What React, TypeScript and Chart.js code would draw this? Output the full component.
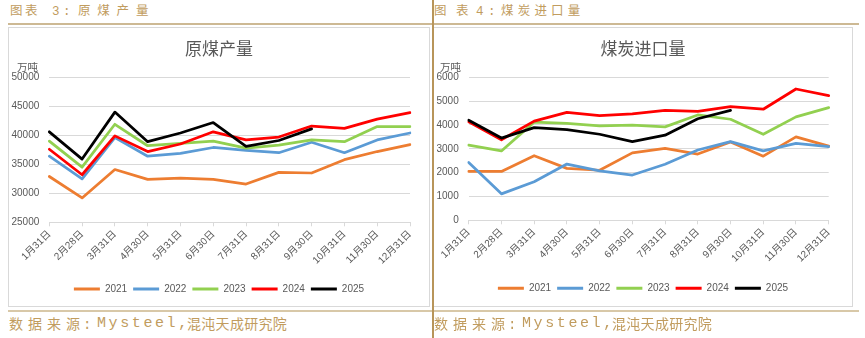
import React, { useEffect, useRef } from 'react';
import { Chart, registerables } from 'chart.js';

Chart.register(...registerables);

const categories = ['1月31日', '2月28日', '3月31日', '4月30日', '5月31日', '6月30日', '7月31日', '8月31日', '9月30日', '10月31日', '11月30日', '12月31日'];
const seriesNames = ['2021', '2022', '2023', '2024', '2025'];
const seriesColors = ['#ED7D31', '#5B9BD5', '#92D050', '#FF0000', '#000000'];

// 原煤产量 (万吨)
const prod2021 = [32900, 29200, 34100, 32400, 32600, 32400, 31600, 33600, 33500, 35800, 37200, 38400];
const prod2022 = [36400, 32500, 39600, 36400, 36900, 37900, 37400, 37000, 38800, 37000, 39200, 40400];
const prod2023 = [39000, 34500, 41900, 38200, 38600, 39000, 37800, 38300, 39200, 38900, 41500, 41500];
const prod2024 = [37600, 33200, 39900, 37200, 38500, 40600, 39200, 39700, 41600, 41200, 42800, 43900];
const prod2025 = [40600, 35900, 44000, 38900, 40400, 42200, 38100, 39100, 41100, null, null, null];

// 煤炭进口量 (万吨)
const imp2021 = [2050, 2050, 2710, 2180, 2100, 2830, 3020, 2780, 3290, 2690, 3500, 3110];
const imp2022 = [2430, 1110, 1620, 2360, 2070, 1900, 2350, 2950, 3300, 2910, 3230, 3090];
const imp2023 = [3150, 2910, 4120, 4070, 3960, 3990, 3920, 4420, 4240, 3610, 4340, 4730];
const imp2024 = [4130, 3380, 4160, 4530, 4390, 4470, 4610, 4570, 4770, 4660, 5510, 5230];
const imp2025 = [4200, 3450, 3890, 3800, 3610, 3300, 3570, 4260, 4610, null, null, null];

const FONT = "'Liberation Sans', 'Noto Sans CJK SC', sans-serif";
const MONO = "'Liberation Mono', 'Noto Sans CJK SC', monospace";
const TEXT = '#595959';
const GRID = '#d9d9d9';
const GOLD = '#c19c5e';

type LineChartProps = {
  values: (number | null)[][];
  title: string;
  min: number;
  max: number;
  step: number;
  width: number;
  height: number;
  rightPad: number;
  yWidth: number;
  xHeight: number;
  bottomPad: number;
};

// centre title and legend on the whole canvas, not only on the padded area
const centerBoxes = {
  id: 'centerBoxes',
  afterLayout(chart: any) {
    for (const box of [chart.titleBlock, chart.legend]) {
      if (box) {
        box.left = 0;
        box.right = chart.width;
        box.width = chart.width;
      }
    }
  },
};

function LineChart(props: LineChartProps) {
  const ref = useRef<HTMLCanvasElement>(null);
  useEffect(() => {
    const { values, title, min, max, step, rightPad, yWidth, xHeight, bottomPad } = props;
    const chart = new Chart(ref.current as HTMLCanvasElement, {
      type: 'line',
      data: {
        labels: categories,
        datasets: values.map((v, i) => ({
          label: seriesNames[i],
          data: v,
          borderColor: seriesColors[i],
          backgroundColor: seriesColors[i],
          borderWidth: 2.75,
          pointRadius: 0,
          pointHoverRadius: 0,
          tension: 0,
          fill: false,
          borderJoinStyle: 'round',
          borderCapStyle: 'round',
          order: values.length - i,
        })),
      },
      options: {
        responsive: false,
        animation: false,
        devicePixelRatio: 1,
        layout: { padding: { left: 0, right: rightPad, top: 0, bottom: bottomPad } },
        plugins: {
          title: {
            display: true,
            text: title,
            color: TEXT,
            font: { size: 17, family: FONT, weight: 'normal' },
            padding: { top: 11.8, bottom: 17.1 },
          },
          legend: {
            position: 'bottom',
            labels: {
              boxWidth: 26,
              boxHeight: 3,
              padding: 6,
              color: TEXT,
              font: { size: 10, family: FONT },
              sort: (a: any, b: any) => a.datasetIndex - b.datasetIndex,
              generateLabels: (c: any) =>
                (Chart.defaults.plugins.legend.labels.generateLabels as any)(c).map((l: any) => ({
                  ...l,
                  lineWidth: 0,
                  fillStyle: l.strokeStyle,
                })),
            },
          },
          tooltip: { enabled: false },
        },
        scales: {
          x: {
            grid: { display: true, drawOnChartArea: false, drawTicks: true, tickLength: 4, color: GRID },
            border: { display: true, color: GRID },
            ticks: {
              minRotation: 45,
              maxRotation: 45,
              autoSkip: false,
              color: TEXT,
              font: { size: 10, family: FONT },
              padding: 2,
            },
            afterFit: (s: any) => {
              s.height = xHeight;
            },
          },
          y: {
            min,
            max,
            ticks: {
              stepSize: step,
              color: TEXT,
              font: { size: 10, family: FONT },
              padding: 10,
              callback: (v: any) => String(v),
            },
            grid: { color: GRID, drawTicks: false },
            border: { display: false },
            afterFit: (s: any) => {
              s.width = yWidth;
            },
          },
        },
      } as any,
      plugins: [centerBoxes],
    });
    return () => chart.destroy();
  }, []);
  return (
    <canvas
      ref={ref}
      width={props.width}
      height={props.height}
      style={{ display: 'block', width: props.width, height: props.height }}
    />
  );
}

const abs = (s: React.CSSProperties): React.CSSProperties => ({ position: 'absolute', ...s });

const headFont: React.CSSProperties = {
  fontFamily: MONO,
  fontSize: 12.5,
  color: GOLD,
  lineHeight: '16px',
  whiteSpace: 'nowrap',
};

const srcFont: React.CSSProperties = {
  fontFamily: MONO,
  fontSize: 14,
  color: GOLD,
  lineHeight: '18px',
  whiteSpace: 'nowrap',
};

type HeaderProps = { x: number; num: string; name: string; pitch1: number; numX: number; colonX: number; nameX: number; pitch2: number };

function Header({ x, num, name, pitch1, numX, colonX, nameX, pitch2 }: HeaderProps) {
  return (
    <div style={abs({ left: x, top: 4, width: 200, height: 16, ...headFont })}>
      <span style={abs({ left: 0, top: 0, letterSpacing: pitch1 - 12.5 })}>图表</span>
      <span style={abs({ left: numX, top: 0 })}>{num}</span>
      <span style={abs({ left: colonX, top: 0 })}>:</span>
      <span style={abs({ left: nameX, top: 0, letterSpacing: pitch2 - 12.5 })}>{name}</span>
    </div>
  );
}

function Source({ x }: { x: number }) {
  return (
    <div style={abs({ left: x, top: 316, width: 300, height: 18, ...srcFont })}>
      <span style={abs({ left: 0, top: 0, letterSpacing: 5 })}>数据来源</span>
      <span style={abs({ left: 74, top: 0 })}>:</span>
      <span style={abs({ left: 88, top: -1, fontSize: 15, letterSpacing: 2.6 })}>Mysteel,</span>
      <span style={abs({ left: 178, top: 0, letterSpacing: 0.3 })}>混沌天成研究院</span>
    </div>
  );
}

export default function App() {
  return (
    <div style={abs({ left: 0, top: 0, width: 865, height: 338, background: '#fff', overflow: 'hidden' })}>
      <Header x={10} num="3" name="原煤产量" pitch1={15} numX={42} colonX={53} nameX={68} pitch2={19.3} />
      <Header x={434} num="4" name="煤炭进口量" pitch1={22} numX={42} colonX={54} nameX={67} pitch2={16.7} />
      <div style={abs({ left: 8, top: 23, width: 851, height: 2, background: '#cdb994' })} />
      <div style={abs({ left: 8, top: 310, width: 851, height: 2, background: '#d8c8a8' })} />

      <div
        style={abs({
          left: 8,
          top: 27,
          width: 422,
          height: 280,
          boxSizing: 'border-box',
          border: `1px solid ${GRID}`,
        })}
      >
        <LineChart
          values={[prod2021, prod2022, prod2023, prod2024, prod2025]}
          title="原煤产量"
          min={25000}
          max={50000}
          step={5000}
          width={420}
          height={278}
          rightPad={19}
          yWidth={40.3}
          xHeight={55.7}
          bottomPad={2}
        />
      </div>
      <div
        style={abs({
          left: 433,
          top: 27,
          width: 420,
          height: 280,
          boxSizing: 'border-box',
          border: `1px solid ${GRID}`,
        })}
      >
        <LineChart
          values={[imp2021, imp2022, imp2023, imp2024, imp2025]}
          title="煤炭进口量"
          min={0}
          max={6000}
          step={1000}
          width={418}
          height={278}
          rightPad={23.3}
          yWidth={34.7}
          xHeight={57}
          bottomPad={2.7}
        />
      </div>

      <div style={abs({ left: 17, top: 60, fontFamily: FONT, fontSize: 10.5, color: TEXT, lineHeight: '14px' })}>万吨</div>
      <div style={abs({ left: 440, top: 60, fontFamily: FONT, fontSize: 10.5, color: TEXT, lineHeight: '14px' })}>万吨</div>

      <div style={abs({ left: 432, top: 0, width: 1.5, height: 338, background: '#b8955a' })} />

      <Source x={9} />
      <Source x={434} />
    </div>
  );
}
